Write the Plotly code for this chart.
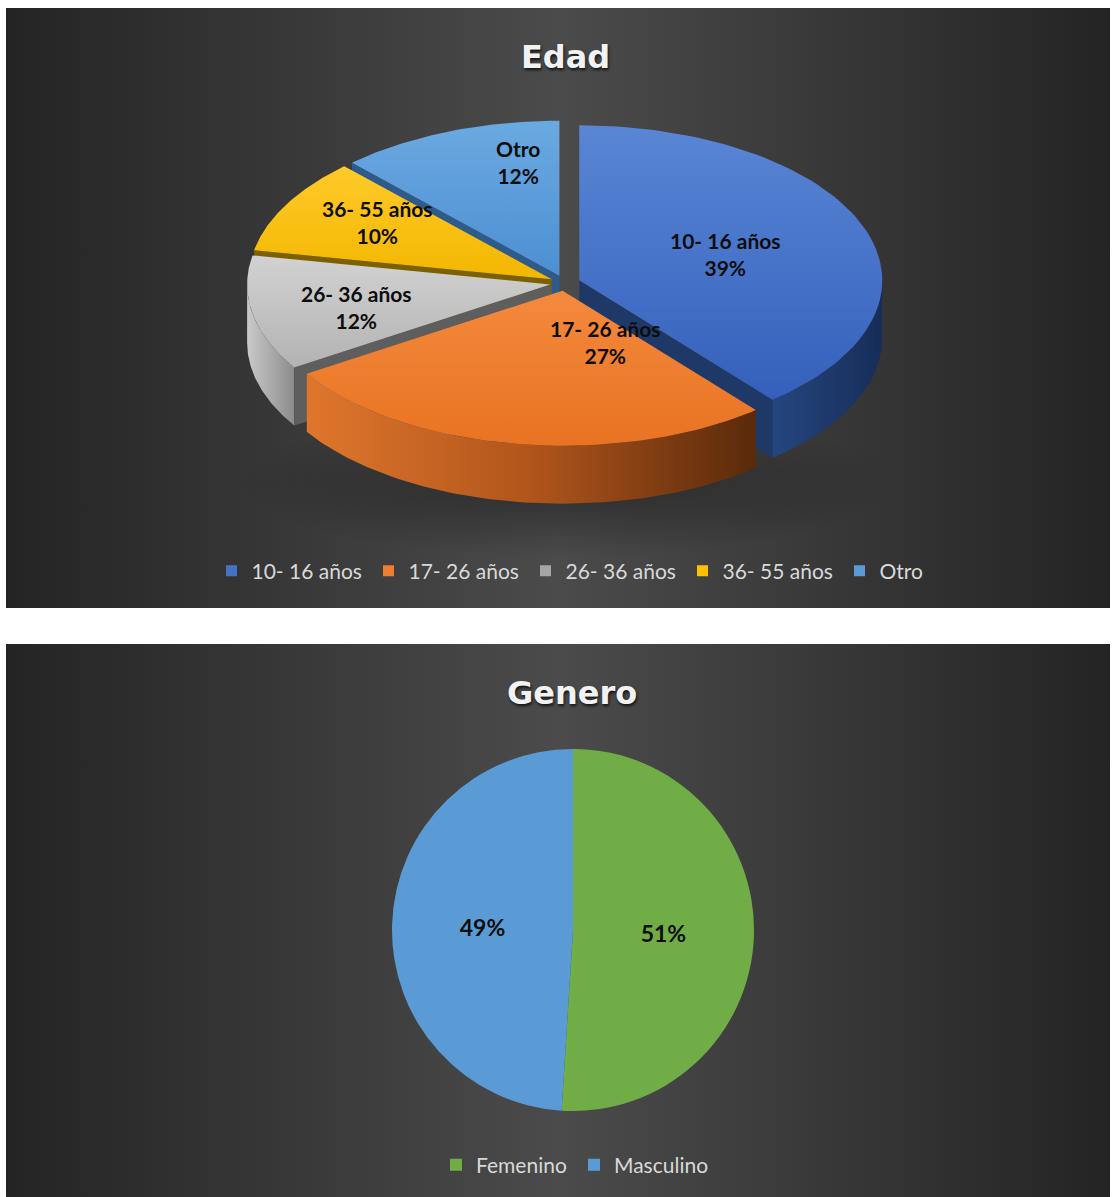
import numpy as np
import plotly.graph_objects as go

# ---------------- data ----------------
edad_labels = ["10- 16 años", "17- 26 años", "26- 36 años", "36- 55 años", "Otro"]
edad_values = [39, 27, 12, 10, 12]
edad_colors = ["#4472C4", "#ED7D31", "#A5A5A5", "#FFC000", "#5B9BD5"]

genero_labels = ["Femenino", "Masculino"]
genero_values = [51, 49]
genero_colors = ["#70AD47", "#5B9BD5"]

# ---------------- styles ----------------
W, H = 1112, 1197
CX, CY = 565, 283          # centre of the tilted pie (px)
RX, RY = 303, 155          # ellipse radii of the top face
DEPTH = 58                 # thickness of the 3D pie
EXPLODE = 0.05             # explosion as fraction of radius

# vertical gradients: first stop = bottom, last stop = top
top_grad = [
    [[0, "#3460bb"], [1, "#5a86d6"]],
    [[0, "#e97322"], [1, "#f4893d"]],
    [[0, "#b3b3b3"], [1, "#d2d2d2"]],
    [[0, "#f3b700"], [1, "#ffca2a"]],
    [[0, "#4d8fd2"], [1, "#6ba9e1"]],
]
wall_grad = [
    [[0, "#24467f"], [1, "#172d58"]],
    [[0, "#e0762d"], [0.5, "#b0551b"], [1, "#5a2a0b"]],
    [[0, "#c9c9c9"], [1, "#8c8c8c"]],
    [[0, "#9a7400"], [1, "#7a5c00"]],
    [[0, "#3b6fa3"], [1, "#2c5688"]],
]
side_color = ["#1e3867", "#8a4415", "#5e5e5e", "#7d6000", "#2f5b8b"]
label_nudge = [(0, 0), (71, -39), (0, 4), (0, -8), (31, -20)]

fig = go.Figure()

# panel backgrounds
for (y0, y1) in [(8, 608), (644, 1197)]:
    fig.add_trace(go.Scatter(
        x=[6, 1110, 1110, 6, 6], y=[y0, y0, y1, y1, y0], mode="lines",
        fill="toself", line=dict(width=0), hoverinfo="skip", showlegend=False,
        fillgradient=dict(type="horizontal",
                          colorscale=[[0, "#242424"], [0.5, "#4b4b4b"], [1, "#242424"]]),
    ))

# soft shadow under the 3D pie
th = np.radians(np.linspace(0, 360, 121))
fig.add_trace(go.Scatter(
    x=CX + 330 * np.sin(th), y=CY + 200 + 75 * np.cos(th), mode="lines",
    fill="toself", line=dict(width=0), hoverinfo="skip", showlegend=False,
    fillgradient=dict(type="radial",
                      colorscale=[[0, "rgba(0,0,0,0.4)"], [1, "rgba(0,0,0,0)"]]),
))

# ---------------- 3D pie geometry ----------------
vals = np.array(edad_values, dtype=float)
fr = vals / vals.sum()
ends = np.cumsum(fr) * 360.0
starts = ends - fr * 360.0


def arc(tx, ty, t0, t1, n=80):
    t = np.radians(np.linspace(t0, t1, n))
    return tx + RX * np.sin(t), ty - RY * np.cos(t)


slices = []
for i in range(len(vals)):
    t0, t1 = starts[i], ends[i]
    mid = np.radians((t0 + t1) / 2)
    tx = CX + RX * EXPLODE * np.sin(mid)
    ty = CY - RY * EXPLODE * np.cos(mid)
    slices.append((i, t0, t1, mid, tx, ty))

# paint back to front
order = sorted(slices, key=lambda s: -np.cos(s[3]))


def poly(xs, ys, **kw):
    fig.add_trace(go.Scatter(x=xs, y=ys, mode="lines", fill="toself",
                             line=dict(width=0), hoverinfo="skip",
                             showlegend=False, **kw))


annots = []
for (i, t0, t1, mid, tx, ty) in order:
    # outer curved wall (front half only)
    lo, hi = max(t0, 90), min(t1, 270)
    if hi > lo:
        ax, ay = arc(tx, ty, lo, hi)
        poly(np.concatenate([ax, ax[::-1]]),
             np.concatenate([ay, ay[::-1] + DEPTH]),
             fillgradient=dict(type="horizontal", colorscale=wall_grad[i]))
    # radial cut faces that face the viewer
    for t, vis in [(t0, np.sin(np.radians(t0)) < -1e-9),
                   (t1, np.sin(np.radians(t1)) > 1e-9)]:
        if vis:
            px, py = arc(tx, ty, t, t, 1)
            poly([tx, px[0], px[0], tx, tx],
                 [ty, py[0], py[0] + DEPTH, ty + DEPTH, ty],
                 fillcolor=side_color[i])
    # top face
    ax, ay = arc(tx, ty, t0, t1)
    poly(np.concatenate([[tx], ax, [tx]]), np.concatenate([[ty], ay, [ty]]),
         fillgradient=dict(type="vertical", colorscale=top_grad[i]))
    # label at the sector centroid
    half = np.radians((t1 - t0) / 2)
    f = 2 * np.sin(half) / (3 * half)
    lx = tx + RX * f * np.sin(mid) + label_nudge[i][0]
    ly = ty - RY * f * np.cos(mid) + label_nudge[i][1]
    annots.append(dict(
        x=lx, y=ly, xref="x", yref="y", showarrow=False,
        text=f"{edad_labels[i]}<br>{edad_values[i]}%",
        font=dict(family="Lato", size=21, color="#0d0d0d", weight="bold"),
    ))

# legend entries for the 3D pie
for lab, col in zip(edad_labels, edad_colors):
    fig.add_trace(go.Scatter(x=[None], y=[None], mode="markers", name=lab,
                             marker=dict(symbol="square", size=11, color=col),
                             legend="legend", hoverinfo="skip"))

# ---------------- Genero pie ----------------
pcx, pcy, pr = 573, 930, 181
fig.add_trace(go.Pie(
    labels=genero_labels, values=genero_values, sort=False,
    direction="clockwise", rotation=0,
    marker=dict(colors=genero_colors, line=dict(width=0)),
    textinfo="percent", textposition="inside", insidetextorientation="horizontal",
    textfont=dict(family="Lato", size=23, color="#0d0d0d", weight="bold"),
    domain=dict(x=[(pcx - pr) / W, (pcx + pr) / W],
                y=[1 - (pcy + pr) / H, 1 - (pcy - pr) / H]),
    legend="legend2", hoverinfo="skip",
))

title_font = dict(family="DejaVu Sans", size=32, color="#f2f2f2", weight="bold",
                  shadow="1px 2px 3px rgba(0,0,0,0.75)")
annots.append(dict(x=565, y=57, xref="x", yref="y", showarrow=False,
                   text="Edad", font=title_font))
annots.append(dict(x=572, y=693, xref="x", yref="y", showarrow=False,
                   text="Genero", font=title_font))

legend_font = dict(family="Lato", size=21, color="#d9d9d9")
fig.update_layout(
    width=W, height=H, margin=dict(l=0, r=0, t=0, b=0),
    paper_bgcolor="white", plot_bgcolor="rgba(0,0,0,0)",
    xaxis=dict(range=[0, W], visible=False, fixedrange=True),
    yaxis=dict(range=[H, 0], visible=False, fixedrange=True),
    annotations=annots,
    legend=dict(orientation="h", x=604 / W, xanchor="center",
                y=1 - 571 / H, yanchor="middle", font=legend_font,
                bgcolor="rgba(0,0,0,0)", entrywidth=112, itemclick=False),
    legend2=dict(orientation="h", x=574 / W, xanchor="center",
                 y=1 - 1165 / H, yanchor="middle", font=legend_font,
                 bgcolor="rgba(0,0,0,0)", entrywidth=93, itemclick=False),
    showlegend=True,
)

fig.write_html("out.html", config={"displayModeBar": False},
               post_script="document.body.style.margin='0';document.body.style.overflow='hidden';")
